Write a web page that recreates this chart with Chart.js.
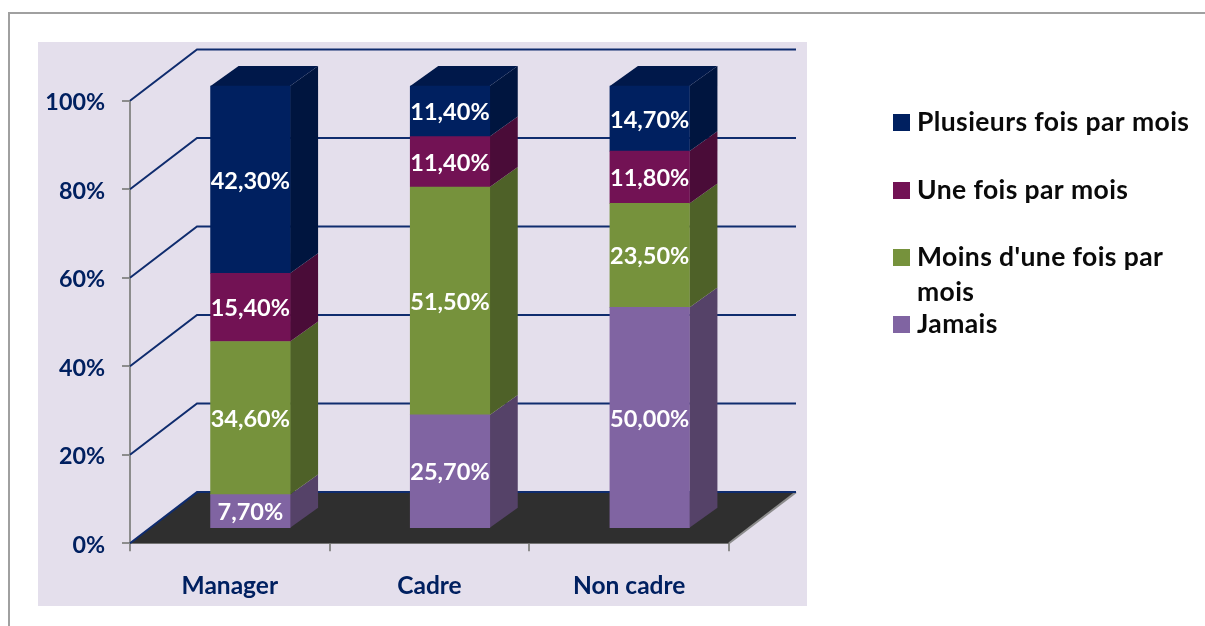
<!DOCTYPE html>
<html>
<head>
<meta charset="utf-8">
<script src="https://cdn.jsdelivr.net/npm/chart.js@4"></script>
<style>
  html, body { margin: 0; padding: 0; background: #fff; overflow: hidden; }
  #frame { position: absolute; left: 8px; top: 12px; width: 1197px; height: 614px; border-left: 2px solid #a0a0a0; border-top: 2px solid #a0a0a0; box-sizing: border-box; }
  canvas { position: absolute; left: 0; top: 0; }
</style>
</head>
<body>
<div id="frame"></div>
<canvas id="survey" width="1205" height="626"></canvas>
<script>
const categories = ["Manager", "Cadre", "Non cadre"];
const jamais = [7.7, 25.7, 50.0];
const moinsUneFois = [34.6, 51.5, 23.5];
const uneFois = [15.4, 11.4, 11.8];
const plusieursFois = [42.3, 11.4, 14.7];
const yTicks = [0, 20, 40, 60, 80, 100];

const navy = "#002060";
const fontFamily = "Lato";

// depth of the fake 3d box, and how far the bars sit inside it
const depthX = 67, depthY = 51.2;
const barDx = 20.5, barDy = 14.6;
const sideX = 28, sideY = 20;

function percentLabel(v) {
  return v.toFixed(2).replace(".", ",") + "%";
}

const box3d = {
  id: "box3d",
  afterDatasetsUpdate(chart) {
    // push the bars back into the middle of the floor
    chart.data.datasets.forEach((ds, i) => {
      chart.getDatasetMeta(i).data.forEach(bar => {
        bar.x += barDx;
        bar.y -= barDy;
        bar.base -= barDy;
      });
    });
  },
  beforeDraw(chart) {
    const ctx = chart.ctx;
    ctx.save();
    ctx.fillStyle = "#e4dfec";
    ctx.fillRect(38, 42, 769, 564);
    ctx.restore();
  },
  beforeDatasetsDraw(chart) {
    const ctx = chart.ctx, a = chart.chartArea, y = chart.scales.y;
    ctx.save();
    // floor
    ctx.fillStyle = "#2f2f2f";
    ctx.beginPath();
    ctx.moveTo(a.left, a.bottom);
    ctx.lineTo(a.left + depthX, a.bottom - depthY);
    ctx.lineTo(a.right + depthX, a.bottom - depthY);
    ctx.lineTo(a.right, a.bottom);
    ctx.closePath();
    ctx.fill();
    ctx.strokeStyle = "#8c8c8c";
    ctx.lineWidth = 2;
    ctx.beginPath();
    ctx.moveTo(a.right, a.bottom);
    ctx.lineTo(a.right + depthX, a.bottom - depthY);
    ctx.stroke();
    // grid lines run up the left wall then along the back wall
    ctx.strokeStyle = "#0f2c6e";
    ctx.lineWidth = 2;
    yTicks.forEach(t => {
      const py = y.getPixelForValue(t);
      ctx.beginPath();
      ctx.moveTo(a.left, py);
      ctx.lineTo(a.left + depthX, py - depthY);
      ctx.lineTo(a.right + depthX, py - depthY);
      ctx.stroke();
    });
    // side and top faces of the bars
    chart.data.datasets.forEach((ds, i) => {
      chart.getDatasetMeta(i).data.forEach(bar => {
        const r = bar.x + bar.width / 2, l = bar.x - bar.width / 2;
        ctx.fillStyle = ds.sideColor;
        ctx.beginPath();
        ctx.moveTo(r, bar.base);
        ctx.lineTo(r + sideX, bar.base - sideY);
        ctx.lineTo(r + sideX, bar.y - sideY);
        ctx.lineTo(r, bar.y);
        ctx.closePath();
        ctx.fill();
        if (i === chart.data.datasets.length - 1) {
          ctx.fillStyle = ds.topColor;
          ctx.beginPath();
          ctx.moveTo(l, bar.y);
          ctx.lineTo(l + sideX, bar.y - sideY);
          ctx.lineTo(r + sideX, bar.y - sideY);
          ctx.lineTo(r, bar.y);
          ctx.closePath();
          ctx.fill();
        }
      });
    });
    ctx.restore();
  },
  afterDatasetsDraw(chart) {
    const ctx = chart.ctx;
    ctx.save();
    ctx.font = "bold 23.5px " + fontFamily;
    ctx.fillStyle = "#fff";
    ctx.textAlign = "center";
    ctx.textBaseline = "middle";
    chart.data.datasets.forEach((ds, i) => {
      chart.getDatasetMeta(i).data.forEach((bar, j) => {
        ctx.fillText(percentLabel(ds.data[j]), bar.x, (bar.y + bar.base) / 2 + 1.5);
      });
    });
    ctx.restore();
  },
  afterDraw(chart) {
    // legend, top row first
    const ctx = chart.ctx;
    const rows = [
      { ds: 3, y: 122.5, lines: ["Plusieurs fois par mois"] },
      { ds: 2, y: 190.5, lines: ["Une fois par mois"] },
      { ds: 1, y: 257.5, lines: ["Moins d'une fois par", "mois"] },
      { ds: 0, y: 324.5, lines: ["Jamais"] }
    ];
    ctx.save();
    ctx.font = "bold 26.5px " + fontFamily;
    ctx.letterSpacing = "0.4px";
    ctx.textBaseline = "middle";
    rows.forEach(row => {
      ctx.fillStyle = chart.data.datasets[row.ds].backgroundColor;
      ctx.fillRect(893, row.y - 8.5, 17, 17);
      ctx.fillStyle = "#0a0a0a";
      row.lines.forEach((line, n) => ctx.fillText(line, 917, row.y + n * 35));
    });
    ctx.restore();
  }
};

new Chart(document.getElementById("survey"), {
  type: "bar",
  data: {
    labels: categories,
    datasets: [
      { label: "Jamais", data: jamais, backgroundColor: "#8064a2", sideColor: "#554268", clip: false },
      { label: "Moins d'une fois par mois", data: moinsUneFois, backgroundColor: "#76923c", sideColor: "#4e6128", clip: false },
      { label: "Une fois par mois", data: uneFois, backgroundColor: "#721254", sideColor: "#4a0c38", clip: false },
      { label: "Plusieurs fois par mois", data: plusieursFois, backgroundColor: navy, sideColor: "#00153f", topColor: "#00184a", clip: false }
    ]
  },
  options: {
    responsive: false,
    animation: false,
    barThickness: 79.5,
    layout: { padding: { left: 38, right: 476, top: 100.7, bottom: 19.7 } },
    plugins: { legend: { display: false }, tooltip: { enabled: false } },
    scales: {
      x: {
        stacked: true,
        afterFit(s) { s.height = 63; },
        grid: { drawOnChartArea: false, color: "#8c8c8c", lineWidth: 2, tickLength: 8 },
        border: { color: "#8c8c8c", width: 2 },
        ticks: { color: navy, font: { family: fontFamily, weight: "bold", size: 24.5 }, padding: 20, maxRotation: 0 }
      },
      y: {
        stacked: true,
        min: 0,
        max: 100,
        afterFit(s) { s.width = 92; },
        grid: { drawOnChartArea: false, color: "#8c8c8c", lineWidth: 2, tickLength: 8 },
        border: { color: "#8c8c8c", width: 2 },
        ticks: {
          stepSize: 20,
          color: navy,
          padding: 17,
          labelOffset: 2,
          font: { family: fontFamily, weight: "bold", size: 23.3 },
          callback: v => v + "%"
        }
      }
    }
  },
  plugins: [box3d]
});
</script>
</body>
</html>
